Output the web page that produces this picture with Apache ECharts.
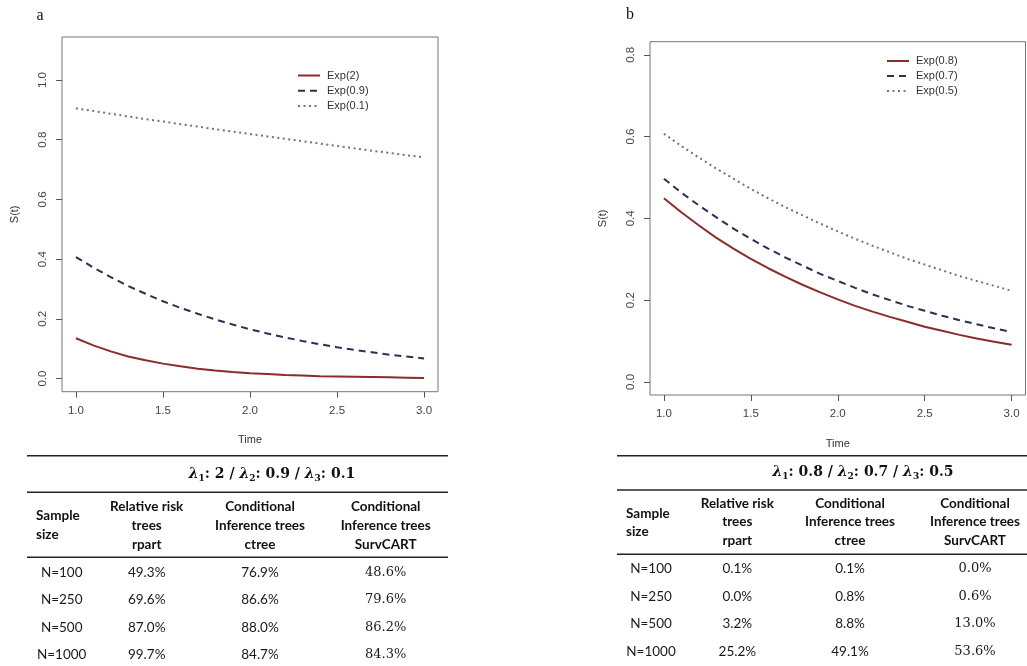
<!DOCTYPE html>
<html><head><meta charset="utf-8">
<script src="https://cdn.jsdelivr.net/npm/echarts@6/dist/echarts.min.js"></script>
<style>html,body{margin:0;padding:0;background:#fff}#c{width:1027px;height:666px}</style>
</head><body><div id="c"></div>
<script>
// ---------- data ----------
const time = [1.0,1.1,1.2,1.3,1.4,1.5,1.6,1.7,1.8,1.9,2.0,2.1,2.2,2.3,2.4,2.5,2.6,2.7,2.8,2.9,3.0];
// panel a
const expA_2  = [0.135,0.111,0.091,0.074,0.061,0.050,0.041,0.033,0.027,0.022,0.018,0.015,0.012,0.010,0.008,0.007,0.006,0.005,0.004,0.003,0.002];
const expA_09 = [0.407,0.372,0.340,0.310,0.284,0.259,0.237,0.217,0.198,0.181,0.165,0.151,0.138,0.126,0.115,0.105,0.096,0.088,0.080,0.074,0.067];
const expA_01 = [0.905,0.896,0.887,0.878,0.869,0.861,0.852,0.844,0.835,0.827,0.819,0.811,0.803,0.795,0.787,0.779,0.771,0.763,0.756,0.748,0.741];
// panel b
const expB_08 = [0.449,0.415,0.383,0.353,0.326,0.301,0.278,0.257,0.237,0.219,0.202,0.186,0.172,0.159,0.147,0.135,0.125,0.115,0.106,0.098,0.091];
const expB_07 = [0.497,0.463,0.432,0.403,0.375,0.350,0.326,0.304,0.284,0.264,0.247,0.230,0.214,0.200,0.186,0.174,0.162,0.151,0.141,0.131,0.122];
const expB_05 = [0.607,0.577,0.549,0.522,0.497,0.472,0.449,0.427,0.407,0.387,0.368,0.350,0.333,0.317,0.301,0.287,0.273,0.259,0.247,0.235,0.223];
const namesA = ['Exp(2)','Exp(0.9)','Exp(0.1)'];
const namesB = ['Exp(0.8)','Exp(0.7)','Exp(0.5)'];
const xTicks = [1.0,1.5,2.0,2.5,3.0];
const yTicksA = [0,0.2,0.4,0.6,0.8,1.0];
const yTicksB = [0,0.2,0.4,0.6,0.8];
// tables
const sampleSizes = ['N=100','N=250','N=500','N=1000'];
const headerFirst = ['Sample','size'];
const headerCols = [['Relative risk','trees','rpart'],['Conditional','Inference trees','ctree'],['Conditional','Inference trees','SurvCART']];
const rpartA = ['49.3%','69.6%','87.0%','99.7%'];
const ctreeA = ['76.9%','86.6%','88.0%','84.7%'];
const survA  = ['48.6%','79.6%','86.2%','84.3%'];
const rpartB = ['0.1%','0.0%','3.2%','25.2%'];
const ctreeB = ['0.1%','0.8%','8.8%','49.1%'];
const survB  = ['0.0%','0.6%','13.0%','53.6%'];
const lambdaA = ['2','0.9','0.1'];
const lambdaB = ['0.8','0.7','0.5'];

// ---------- styles ----------
const COLORS = ['#8b2b2b','#2c3052','#5f8068'];
const TYPES = ['solid',[7,5],[2,3.5]];
const AXCOL = '#555';
const FONT = 'Liberation Sans, Arial, sans-serif';

function pairs(ys){ return time.map((t,i)=>[t,ys[i]]); }

function xAxis(gi){
  return {type:'value', gridIndex:gi, min:0.92, max:3.08,
    name:'Time', nameLocation:'middle', nameGap:43,
    nameTextStyle:{fontFamily:FONT,fontSize:11,color:'#333'},
    axisLine:{show:false, onZero:false}, splitLine:{show:false},
    axisTick:{show:true, inside:false, length:6, lineStyle:{color:AXCOL}, customValues:xTicks},
    axisLabel:{customValues:xTicks, margin:13, fontFamily:FONT, fontSize:11.5, color:'#444', formatter:v=>v.toFixed(1)}};
}
function yAxis(gi,min,max,ticks){
  return {type:'value', gridIndex:gi, min:min, max:max,
    name:'S(t)', nameLocation:'middle', nameGap:42, nameRotate:90,
    nameTextStyle:{fontFamily:FONT,fontSize:11,color:'#333'},
    axisLine:{show:false, onZero:false}, splitLine:{show:false},
    axisTick:{show:true, length:6, lineStyle:{color:AXCOL}, customValues:ticks},
    axisLabel:{customValues:ticks, rotate:90, margin:13, fontFamily:FONT, fontSize:11.5, color:'#444', formatter:v=>v.toFixed(1)}};
}
function lineSeries(name, ys, k, gi){
  return {type:'line', name:name, xAxisIndex:gi, yAxisIndex:gi, data:pairs(ys),
    symbol:'none', showSymbol:false, smooth:false, animation:false,
    lineStyle:{color:COLORS[k], width:2, type:TYPES[k]}, itemStyle:{color:COLORS[k]}};
}

// ---------- tables (graphic) ----------
function table(cfg){
  const g = [];
  const lineEl = (y,w)=>({type:'line', shape:{x1:cfg.x1,y1:y,x2:cfg.x2,y2:y}, style:{stroke:'#222',lineWidth:w}});
  g.push(lineEl(cfg.lines[0],1.6), lineEl(cfg.lines[1],1.6), lineEl(cfg.lines[2],1.6));
  const lam = cfg.lambda;
  g.push({type:'text', x:cfg.lamX, y:cfg.lamY, style:{
    text:`{l|λ}{s|1}{n|: ${lam[0]} / }{l|λ}{s|2}{n|: ${lam[1]} / }{l|λ}{s|3}{n|: ${lam[2]}}`,
    rich:{
      l:{fontFamily:'DejaVu Serif',fontStyle:'italic',fontWeight:'bold',fontSize:14,fill:'#111',lineHeight:18},
      n:{fontFamily:'DejaVu Serif',fontWeight:'bold',fontSize:14,fill:'#111',lineHeight:18},
      s:{fontFamily:'DejaVu Serif',fontWeight:'bold',fontSize:9,fill:'#111',lineHeight:10,verticalAlign:'bottom'}
    }, align:'center', verticalAlign:'middle'}});
  headerFirst.forEach((t,i)=>g.push({type:'text', x:cfg.sampleX, y:cfg.sampleY[i],
    style:{text:t, font:'bold 13.5px Lato, sans-serif', fill:'#111', align:'left', verticalAlign:'middle'}}));
  headerCols.forEach((col,c)=>col.forEach((t,r)=>g.push({type:'text', x:cfg.colX[c+1], y:cfg.headY[r],
    style:{text:t, font:'bold 13.5px Lato, sans-serif', fill:'#111', align:'center', verticalAlign:'middle'}})));
  const cols = [sampleSizes, cfg.rpart, cfg.ctree, cfg.surv];
  cols.forEach((col,c)=>col.forEach((t,r)=>g.push({type:'text', x:cfg.colX[c], y:cfg.rowY[r],
    style:{text:t, font: c===3 ? '13px DejaVu Serif, serif' : '13.5px Lato, sans-serif', fill:'#1a1a1a', align:'center', verticalAlign:'middle'}})));
  return g;
}

const tableA = table({x1:27, x2:448, lines:[455.7,492.3,557.3], lambda:lambdaA, lamX:272, lamY:474,
  sampleX:36, sampleY:[516,535], headY:[507,526,544.5], colX:[61.7,146.7,260,385.7],
  rowY:[572.3,600,627.3,655], rpart:rpartA, ctree:ctreeA, surv:survA});
const tableB = table({x1:617, x2:1027, lines:[455.7,490,554.3], lambda:lambdaB, lamX:863, lamY:472.3,
  sampleX:626, sampleY:[513.3,531.7], headY:[504,522,540.5], colX:[651,737.3,850,975],
  rowY:[569,596.7,624,651.7], rpart:rpartB, ctree:ctreeB, surv:survB});

const panelLabels = [
  {type:'text', x:40, y:16, style:{text:'a', font:'16px Liberation Serif, serif', fill:'#111', align:'center', verticalAlign:'middle'}},
  {type:'text', x:630, y:15, style:{text:'b', font:'16px Liberation Serif, serif', fill:'#111', align:'center', verticalAlign:'middle'}}
];

const legendCommon = {orient:'vertical', itemWidth:22, itemHeight:10, selectedMode:false,
  itemStyle:{opacity:0, borderWidth:0},
  textStyle:{fontFamily:FONT,fontSize:11,color:'#333',padding:[0,0,0,2]}};

const chart = echarts.init(document.getElementById('c'), null, {renderer:'canvas'});
chart.setOption({
  animation:false,
  backgroundColor:'#fff',
  grid:[
    {left:62, top:37, width:376, height:354.7, show:true, borderColor:'#777', borderWidth:1, backgroundColor:'transparent'},
    {left:650, top:41.7, width:375.5, height:353.3, show:true, borderColor:'#777', borderWidth:1, backgroundColor:'transparent'}
  ],
  xAxis:[xAxis(0), xAxis(1)],
  yAxis:[yAxis(0,-0.044,1.144,yTicksA), yAxis(1,-0.032,0.832,yTicksB)],
  legend:[
    Object.assign({data:namesA, left:292, top:65, itemGap:4.3}, legendCommon),
    Object.assign({data:namesB, left:881, top:50.5, itemGap:4}, legendCommon)
  ],
  series:[
    lineSeries(namesA[0], expA_2, 0, 0),
    lineSeries(namesA[1], expA_09, 1, 0),
    lineSeries(namesA[2], expA_01, 2, 0),
    lineSeries(namesB[0], expB_08, 0, 1),
    lineSeries(namesB[1], expB_07, 1, 1),
    lineSeries(namesB[2], expB_05, 2, 1)
  ],
  graphic: panelLabels.concat(tableA, tableB)
});
</script></body></html>
